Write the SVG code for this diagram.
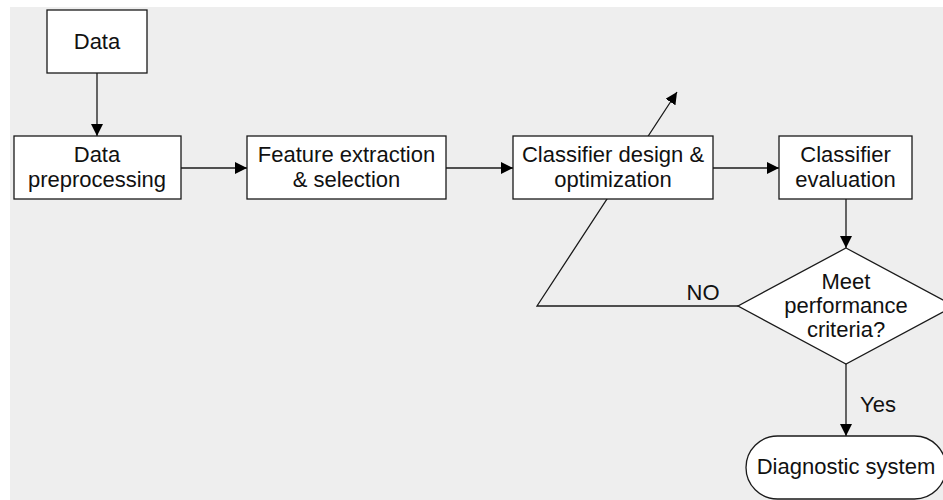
<svg xmlns="http://www.w3.org/2000/svg" width="943" height="500" viewBox="0 0 943 500">
<style>
.bg{fill:#eeeeee;}
.box{fill:#ffffff;stroke:#1a1a1a;stroke-width:1.3;}
.line{fill:none;stroke:#1a1a1a;stroke-width:1.3;}
text{font-family:"Liberation Sans",Arial,sans-serif;font-size:22px;fill:#111;text-anchor:middle;}
</style>
<defs>
<marker id="arr" markerUnits="userSpaceOnUse" markerWidth="12" markerHeight="12" refX="12" refY="6" orient="auto" viewBox="0 0 12 12">
<path d="M0,0 L12,6 L0,12 z" fill="#000"/>
</marker>
</defs>
<rect class="bg" x="10" y="7" width="933" height="493"/>
<g id="connectors">
<line class="line" x1="97" y1="73" x2="97" y2="136" marker-end="url(#arr)"/>
<line class="line" x1="181" y1="168" x2="247" y2="168" marker-end="url(#arr)"/>
<line class="line" x1="446" y1="168" x2="513" y2="168" marker-end="url(#arr)"/>
<line class="line" x1="713" y1="168" x2="779" y2="168" marker-end="url(#arr)"/>
<line class="line" x1="846" y1="199" x2="846" y2="248" marker-end="url(#arr)"/>
<polyline class="line" points="738,306 537,306 677,92" marker-end="url(#arr)"/>
<text x="703" y="300">NO</text>
<line class="line" x1="846" y1="364" x2="846" y2="436" marker-end="url(#arr)"/>
<text x="878" y="412">Yes</text>
</g>
<g id="data">
<rect class="box" x="47" y="10" width="100" height="63"/>
<text x="97" y="49">Data</text>
</g>
<g id="preprocessing">
<rect class="box" x="14" y="136" width="167" height="63"/>
<text x="97" y="161.5">Data</text>
<text x="97" y="186.5">preprocessing</text>
</g>
<g id="feature">
<rect class="box" x="247" y="136" width="199" height="63"/>
<text x="346.5" y="161.5">Feature extraction</text>
<text x="346.5" y="186.5">&amp; selection</text>
</g>
<g id="classifier-design">
<rect class="box" x="513" y="136" width="200" height="63"/>
<text x="613" y="161.5">Classifier design &amp;</text>
<text x="613" y="186.5">optimization</text>
</g>
<g id="classifier-evaluation">
<rect class="box" x="779" y="136" width="133" height="63"/>
<text x="845.5" y="161.5">Classifier</text>
<text x="845.5" y="186.5">evaluation</text>
</g>
<g id="decision">
<polygon class="box" points="846,248 954,306 846,364 738,306"/>
<text x="846" y="288.5">Meet</text>
<text x="846" y="313">performance</text>
<text x="846" y="337">criteria?</text>
</g>
<g id="diagnostic-system">
<rect class="box" x="746" y="436" width="200" height="63" rx="31.5" ry="31.5"/>
<text x="846" y="474">Diagnostic system</text>
</g>
</svg>
